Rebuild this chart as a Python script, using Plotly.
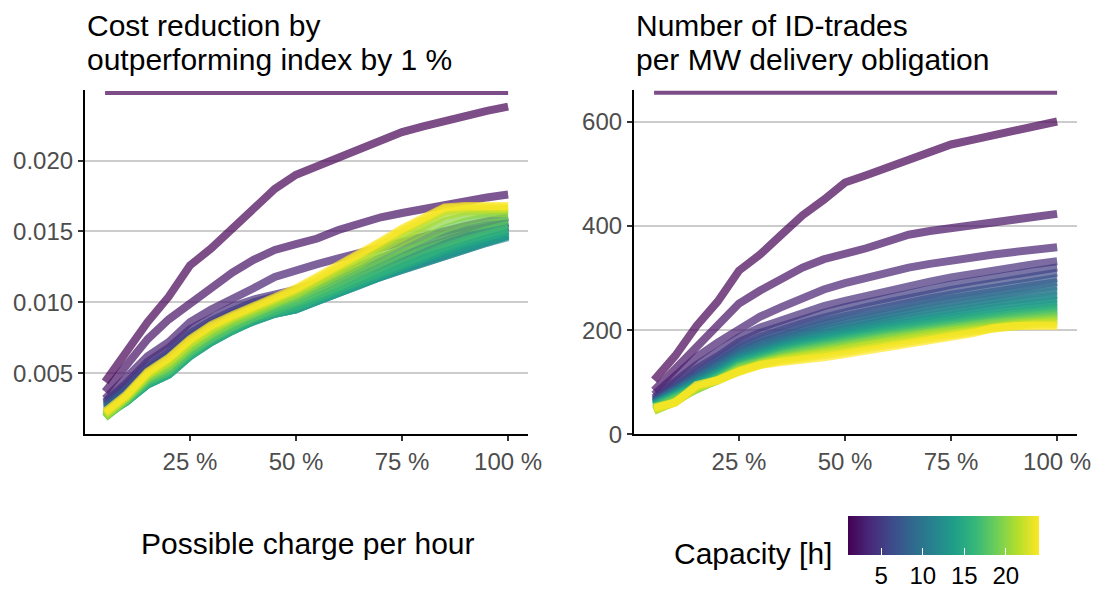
import plotly.graph_objects as go
from plotly.colors import sample_colorscale

# ---------------- data ----------------
charge_pct = [5, 10, 15, 20, 25, 30, 35, 40, 45, 50, 55, 60, 65, 70, 75, 80, 85, 90, 95, 100]
capacity_h = list(range(1, 25))

# Cost reduction by outperforming index by 1 % (one list per capacity)
cost_c01 = [0.0044, 0.0065, 0.0086, 0.0104, 0.0126, 0.0138, 0.0152, 0.0166, 0.0180, 0.0190, 0.0196, 0.0202, 0.0208, 0.0214, 0.0220, 0.0224, 0.0228, 0.0232, 0.0235, 0.0238]
cost_c02 = [0.0037, 0.0056, 0.0074, 0.0088, 0.0099, 0.0110, 0.0121, 0.0130, 0.0137, 0.0141, 0.0145, 0.0151, 0.0156, 0.0160, 0.0163, 0.0166, 0.0169, 0.0172, 0.0174, 0.0176]
cost_c03 = [0.0032, 0.0047, 0.0062, 0.0072, 0.0086, 0.0095, 0.0102, 0.0110, 0.0118, 0.0123, 0.0127, 0.0131, 0.0135, 0.0139, 0.0142, 0.0146, 0.0150, 0.0154, 0.0157, 0.0160]
cost_c04 = [0.0030, 0.0043, 0.0058, 0.0068, 0.0081, 0.0089, 0.0097, 0.0102, 0.0105, 0.0109, 0.0114, 0.0120, 0.0126, 0.0132, 0.0137, 0.0141, 0.0146, 0.0150, 0.0153, 0.0156]
cost_c05 = [0.0029, 0.0041, 0.0055, 0.0065, 0.0078, 0.0087, 0.0094, 0.0100, 0.0104, 0.0108, 0.0113, 0.0118, 0.0123, 0.0129, 0.0134, 0.0139, 0.0144, 0.0148, 0.0152, 0.0156]
cost_c06 = [0.0028, 0.0039, 0.0053, 0.0063, 0.0076, 0.0085, 0.0092, 0.0098, 0.0102, 0.0106, 0.0111, 0.0116, 0.0121, 0.0127, 0.0132, 0.0137, 0.0142, 0.0146, 0.0150, 0.0154]
cost_c07 = [0.0027, 0.0038, 0.0051, 0.0061, 0.0073, 0.0082, 0.0089, 0.0095, 0.0100, 0.0104, 0.0109, 0.0114, 0.0119, 0.0125, 0.0130, 0.0135, 0.0140, 0.0144, 0.0149, 0.0153]
cost_c08 = [0.0026, 0.0036, 0.0049, 0.0058, 0.0070, 0.0080, 0.0087, 0.0093, 0.0098, 0.0101, 0.0106, 0.0111, 0.0117, 0.0122, 0.0128, 0.0133, 0.0138, 0.0143, 0.0147, 0.0151]
cost_c09 = [0.0025, 0.0034, 0.0047, 0.0055, 0.0068, 0.0078, 0.0085, 0.0091, 0.0096, 0.0099, 0.0105, 0.0110, 0.0115, 0.0121, 0.0126, 0.0131, 0.0136, 0.0141, 0.0145, 0.0150]
cost_c10 = [0.0024, 0.0033, 0.0045, 0.0053, 0.0066, 0.0076, 0.0083, 0.0089, 0.0094, 0.0097, 0.0103, 0.0108, 0.0114, 0.0119, 0.0124, 0.0129, 0.0134, 0.0139, 0.0143, 0.0148]
cost_c11 = [0.0023, 0.0032, 0.0044, 0.0051, 0.0064, 0.0074, 0.0082, 0.0088, 0.0093, 0.0096, 0.0102, 0.0107, 0.0113, 0.0118, 0.0123, 0.0128, 0.0133, 0.0138, 0.0142, 0.0147]
cost_c12 = [0.0022, 0.0031, 0.0043, 0.0050, 0.0063, 0.0073, 0.0081, 0.0087, 0.0092, 0.0095, 0.0101, 0.0106, 0.0112, 0.0118, 0.0123, 0.0128, 0.0133, 0.0138, 0.0142, 0.0146]
cost_c13 = [0.0022, 0.0030, 0.0042, 0.0049, 0.0062, 0.0072, 0.0080, 0.0087, 0.0092, 0.0095, 0.0101, 0.0106, 0.0112, 0.0118, 0.0124, 0.0129, 0.0134, 0.0139, 0.0143, 0.0147]
cost_c14 = [0.0021, 0.0030, 0.0042, 0.0049, 0.0062, 0.0072, 0.0080, 0.0087, 0.0092, 0.0095, 0.0101, 0.0107, 0.0113, 0.0119, 0.0125, 0.0130, 0.0135, 0.0140, 0.0144, 0.0148]
cost_c15 = [0.0021, 0.0030, 0.0042, 0.0049, 0.0062, 0.0072, 0.0080, 0.0087, 0.0092, 0.0096, 0.0102, 0.0108, 0.0114, 0.0120, 0.0126, 0.0132, 0.0137, 0.0142, 0.0146, 0.0150]
cost_c16 = [0.0020, 0.0030, 0.0043, 0.0050, 0.0063, 0.0073, 0.0081, 0.0088, 0.0093, 0.0097, 0.0103, 0.0109, 0.0116, 0.0122, 0.0128, 0.0134, 0.0139, 0.0144, 0.0148, 0.0152]
cost_c17 = [0.0020, 0.0030, 0.0044, 0.0051, 0.0064, 0.0074, 0.0082, 0.0089, 0.0094, 0.0099, 0.0105, 0.0111, 0.0118, 0.0124, 0.0131, 0.0137, 0.0142, 0.0147, 0.0151, 0.0155]
cost_c18 = [0.0019, 0.0031, 0.0045, 0.0052, 0.0065, 0.0075, 0.0083, 0.0090, 0.0096, 0.0101, 0.0107, 0.0114, 0.0121, 0.0128, 0.0135, 0.0141, 0.0147, 0.0152, 0.0155, 0.0158]
cost_c19 = [0.0019, 0.0031, 0.0046, 0.0054, 0.0067, 0.0077, 0.0085, 0.0092, 0.0098, 0.0103, 0.0110, 0.0117, 0.0124, 0.0132, 0.0139, 0.0146, 0.0152, 0.0157, 0.0160, 0.0161]
cost_c20 = [0.0019, 0.0032, 0.0047, 0.0055, 0.0068, 0.0078, 0.0086, 0.0093, 0.0099, 0.0105, 0.0112, 0.0119, 0.0127, 0.0135, 0.0143, 0.0150, 0.0157, 0.0161, 0.0163, 0.0163]
cost_c21 = [0.0020, 0.0033, 0.0048, 0.0057, 0.0070, 0.0080, 0.0088, 0.0094, 0.0100, 0.0106, 0.0114, 0.0121, 0.0129, 0.0138, 0.0146, 0.0154, 0.0161, 0.0164, 0.0165, 0.0165]
cost_c22 = [0.0021, 0.0033, 0.0049, 0.0058, 0.0071, 0.0081, 0.0089, 0.0095, 0.0101, 0.0108, 0.0115, 0.0123, 0.0131, 0.0140, 0.0149, 0.0157, 0.0164, 0.0166, 0.0166, 0.0166]
cost_c23 = [0.0022, 0.0034, 0.0050, 0.0060, 0.0073, 0.0083, 0.0090, 0.0096, 0.0102, 0.0109, 0.0117, 0.0125, 0.0133, 0.0142, 0.0151, 0.0159, 0.0166, 0.0167, 0.0167, 0.0167]
cost_c24 = [0.0023, 0.0035, 0.0051, 0.0061, 0.0074, 0.0084, 0.0091, 0.0097, 0.0103, 0.0110, 0.0118, 0.0126, 0.0134, 0.0143, 0.0152, 0.0160, 0.0167, 0.0168, 0.0168, 0.0168]

# Number of ID-trades per MW delivery obligation (one list per capacity)
trades_c01 = [104, 151, 208, 255, 314, 345, 383, 420, 450, 483, 497, 512, 527, 543, 556, 565, 574, 582, 591, 600]
trades_c02 = [84, 126, 170, 210, 251, 276, 298, 320, 336, 345, 357, 370, 383, 390, 395, 400, 406, 412, 418, 423]
trades_c03 = [76, 112, 148, 176, 203, 226, 244, 262, 278, 290, 300, 311, 320, 327, 334, 340, 345, 350, 355, 359]
trades_c04 = [70, 101, 133, 159, 186, 205, 220, 234, 246, 256, 266, 276, 285, 293, 301, 308, 315, 321, 327, 332]
trades_c05 = [67, 96, 126, 150, 177, 195, 209, 222, 233, 244, 253, 262, 271, 279, 287, 294, 301, 308, 314, 320]
trades_c06 = [65, 92, 120, 144, 170, 187, 201, 213, 224, 235, 244, 253, 262, 270, 277, 284, 291, 298, 304, 310]
trades_c07 = [63, 89, 116, 139, 164, 181, 194, 206, 217, 227, 236, 245, 253, 261, 268, 275, 282, 288, 294, 300]
trades_c08 = [62, 86, 112, 134, 159, 176, 189, 200, 211, 220, 229, 238, 246, 254, 261, 268, 274, 280, 286, 292]
trades_c09 = [61, 84, 109, 130, 155, 171, 184, 195, 205, 214, 223, 231, 239, 247, 254, 261, 267, 273, 279, 284]
trades_c10 = [60, 82, 106, 127, 151, 167, 179, 190, 200, 208, 217, 225, 233, 240, 247, 254, 260, 266, 271, 276]
trades_c11 = [59, 80, 104, 124, 148, 163, 175, 186, 195, 203, 211, 219, 227, 234, 241, 247, 253, 258, 263, 268]
trades_c12 = [58, 78, 101, 121, 145, 160, 171, 182, 191, 198, 206, 214, 221, 228, 235, 241, 247, 252, 257, 261]
trades_c13 = [57, 77, 99, 118, 142, 157, 168, 178, 187, 194, 202, 209, 216, 223, 229, 235, 241, 246, 251, 255]
trades_c14 = [56, 75, 97, 116, 139, 154, 165, 175, 183, 190, 198, 205, 212, 218, 224, 230, 235, 240, 245, 249]
trades_c15 = [55, 74, 95, 113, 137, 151, 162, 171, 180, 186, 194, 201, 207, 213, 219, 225, 230, 235, 240, 244]
trades_c16 = [54, 72, 93, 111, 134, 148, 159, 168, 176, 182, 190, 197, 203, 209, 215, 221, 226, 231, 235, 239]
trades_c17 = [52, 70, 91, 109, 132, 146, 156, 165, 173, 179, 187, 193, 199, 205, 211, 217, 222, 227, 231, 235]
trades_c18 = [50, 68, 89, 107, 130, 143, 153, 162, 170, 176, 183, 190, 196, 202, 207, 213, 218, 223, 227, 231]
trades_c19 = [48, 66, 87, 105, 128, 141, 151, 159, 167, 173, 180, 187, 193, 199, 204, 210, 215, 219, 223, 227]
trades_c20 = [46, 64, 87, 104, 126, 139, 148, 156, 164, 170, 177, 184, 190, 196, 201, 207, 212, 216, 220, 223]
trades_c21 = [45, 63, 88, 104, 124, 137, 146, 153, 161, 167, 174, 181, 187, 193, 198, 204, 209, 213, 216, 219]
trades_c22 = [47, 62, 90, 103, 123, 135, 144, 150, 158, 163, 170, 177, 183, 189, 194, 200, 206, 210, 213, 215]
trades_c23 = [49, 61, 92, 104, 121, 134, 141, 146, 152, 158, 165, 172, 178, 184, 190, 197, 203, 208, 211, 211]
trades_c24 = [52, 61, 95, 104, 120, 133, 139, 142, 148, 154, 161, 167, 173, 180, 186, 194, 204, 208, 208, 208]

# horizontal reference line drawn across the top of each panel
ref_x = [5, 100]
ref_cost = [0.02476, 0.02476]
ref_trades = [655, 655]

x_tickvals = [25, 50, 75, 100]
x_ticktext = ["25 %", "50 %", "75 %", "100 %"]
cost_tickvals = [0.005, 0.010, 0.015, 0.020]
cost_ticktext = ["0.005", "0.010", "0.015", "0.020"]
trades_tickvals = [0, 200, 400, 600]
trades_ticktext = ["0", "200", "400", "600"]
cbar_tickvals = [5, 10, 15, 20]

cost_series = [cost_c01, cost_c02, cost_c03, cost_c04, cost_c05, cost_c06, cost_c07, cost_c08,
               cost_c09, cost_c10, cost_c11, cost_c12, cost_c13, cost_c14, cost_c15, cost_c16,
               cost_c17, cost_c18, cost_c19, cost_c20, cost_c21, cost_c22, cost_c23, cost_c24]
trades_series = [trades_c01, trades_c02, trades_c03, trades_c04, trades_c05, trades_c06, trades_c07, trades_c08,
                 trades_c09, trades_c10, trades_c11, trades_c12, trades_c13, trades_c14, trades_c15, trades_c16,
                 trades_c17, trades_c18, trades_c19, trades_c20, trades_c21, trades_c22, trades_c23, trades_c24]

# ---------------- styling ----------------
FONT = "Liberation Sans"
W, H = 1113, 605
ALPHA = 0.7
cmin, cmax = 1, 24


def vcol(c):
    col = sample_colorscale("Viridis", [(c - cmin) / (cmax - cmin)], colortype="rgb")[0]
    r, g, b = [int(float(v)) for v in col[col.index("(") + 1:col.index(")")].split(",")]
    return f"rgba({r},{g},{b},{ALPHA})"


fig = go.Figure()

# reference lines
fig.add_trace(go.Scatter(x=ref_x, y=ref_cost, mode="lines", xaxis="x", yaxis="y",
                         line=dict(color=vcol(1), width=4), showlegend=False, hoverinfo="skip"))
fig.add_trace(go.Scatter(x=ref_x, y=ref_trades, mode="lines", xaxis="x2", yaxis="y2",
                         line=dict(color=vcol(1), width=4), showlegend=False, hoverinfo="skip"))

for c, ys in zip(capacity_h, cost_series):
    fig.add_trace(go.Scatter(x=charge_pct, y=ys, mode="lines", xaxis="x", yaxis="y",
                             line=dict(color=vcol(c), width=8), showlegend=False,
                             name=f"{c} h"))
for c, ys in zip(capacity_h, trades_series):
    fig.add_trace(go.Scatter(x=charge_pct, y=ys, mode="lines", xaxis="x2", yaxis="y2",
                             line=dict(color=vcol(c), width=8), showlegend=False,
                             name=f"{c} h"))

# colour bar carrier
fig.add_trace(go.Scatter(
    x=[None], y=[None], mode="markers", xaxis="x2", yaxis="y2", showlegend=False,
    marker=dict(color=[cmin], colorscale="Viridis", cmin=cmin, cmax=cmax, showscale=True,
                colorbar=dict(orientation="h", lenmode="pixels", len=191,
                              thicknessmode="pixels", thickness=39,
                              x=955.5 / W, xanchor="center", y=(H - 527) / H, yanchor="top",
                              xpad=0, ypad=0, outlinewidth=0,
                              tickvals=cbar_tickvals, ticks="inside", ticklen=7,
                              tickcolor="white", tickwidth=1,
                              tickfont=dict(family=FONT, size=24, color="black"),
                              title=dict(text=""))),
))

px = lambda p: p / W
py = lambda p: (H - p) / H

xaxis_common = dict(range=[0.25, 104.75], tickvals=x_tickvals, ticktext=x_ticktext,
                    showgrid=False, zeroline=False, showline=True, linecolor="black", linewidth=2,
                    ticks="outside", ticklen=5, tickwidth=2, tickcolor="#333333",
                    tickfont=dict(family=FONT, size=24, color="#4D4D4D"), fixedrange=True)
yaxis_common = dict(showgrid=True, gridcolor="#CCCCCC", gridwidth=2, zeroline=False,
                    showline=True, linecolor="black", linewidth=2,
                    ticks="outside", ticklen=5, tickwidth=2, tickcolor="#333333",
                    tickfont=dict(family=FONT, size=24, color="#4D4D4D"), fixedrange=True)

fig.update_layout(
    width=W, height=H, autosize=False,
    margin=dict(l=0, r=0, t=0, b=0),
    paper_bgcolor="white", plot_bgcolor="white",
    font=dict(family=FONT, color="black"),
    xaxis=dict(domain=[px(86), px(535)], anchor="y", **xaxis_common),
    yaxis=dict(domain=[py(444), py(92)], anchor="x", range=[0.00069, 0.02497],
               tickvals=cost_tickvals, ticktext=cost_ticktext, **yaxis_common),
    xaxis2=dict(domain=[px(642), px(1091)], anchor="y2", **xaxis_common),
    yaxis2=dict(domain=[py(444), py(92)], anchor="x2", range=[0, 660.4],
                tickvals=trades_tickvals, ticktext=trades_ticktext, **yaxis_common),
)

ann = [
    ("Cost reduction by", 86, 26.5, "left", 30),
    ("outperforming index by 1 %", 86, 60.5, "left", 30),
    ("Number of ID-trades", 642, 26.5, "left", 30),
    ("per MW delivery obligation", 642, 60.5, "left", 30),
    ("Possible charge per hour", 311.5, 555, "center", 30),
    ("Capacity [h]", 845, 566, "right", 30),
]
for text, xx, yy, anchor, size in ann:
    fig.add_annotation(text=text, x=px(xx), y=py(yy), xref="paper", yref="paper",
                       xanchor=anchor, yanchor="middle", showarrow=False,
                       font=dict(family=FONT, size=size, color="black"))

fig.write_html("out.html")
